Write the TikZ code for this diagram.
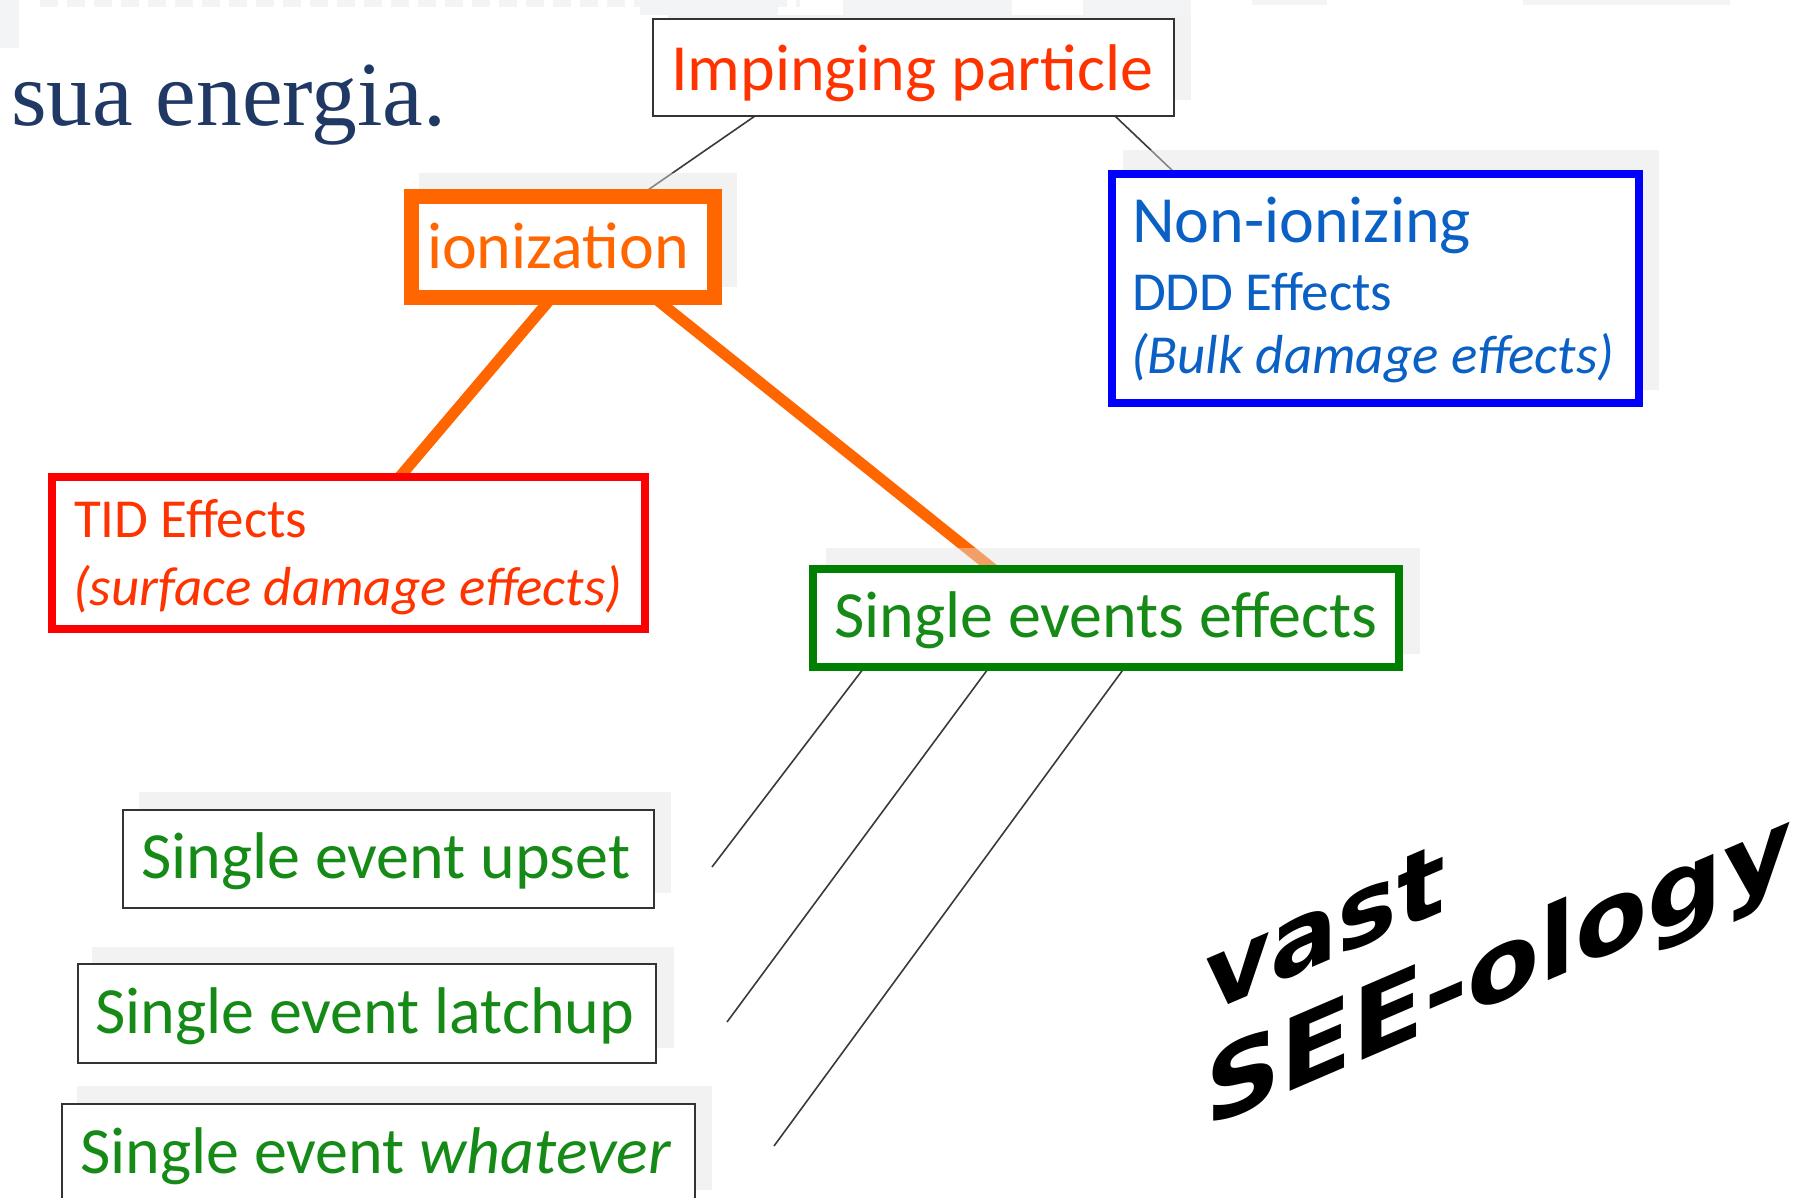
\documentclass[tikz,border=0pt]{standalone}
\usepackage{fontspec}
\setmainfont{Carlito}
\newfontfamily\serifface{Liberation Serif}
\newfontfamily\handface{DejaVu Sans}
\usetikzlibrary{calc}
\definecolor{impred}{HTML}{FF3300}
\definecolor{ionorange}{HTML}{FF6600}
\definecolor{nonblue}{HTML}{0000FF}
\definecolor{nontext}{HTML}{0A60C4}
\definecolor{tidred}{HTML}{FF0000}
\definecolor{seegreen}{HTML}{008000}
\definecolor{greentext}{HTML}{168A16}
\definecolor{boxgray}{HTML}{333333}
\definecolor{linegray}{HTML}{3A3A3A}
\definecolor{navytext}{HTML}{1F3864}
\definecolor{shd}{gray}{0.89}
\definecolor{artgray}{HTML}{F3F4F6}
\begin{document}
\begin{tikzpicture}[x=1pt,y=-1pt,
  boxbase/.style={inner sep=0pt, outer sep=0pt, fill=white},
  thinbox/.style={boxbase, draw=boxgray, line width=2pt},
  shadowbox/.style={fill=shd, fill opacity=0.45, draw=none},
  txt/.style={inner sep=0pt, outer sep=0pt, anchor=base west},
  bigfont/.style={font=\fontsize{66}{79}\selectfont},
  midfont/.style={font=\fontsize{55}{66}\selectfont},
  thinline/.style={draw=linegray, line width=1.6pt},
  thickline/.style={draw=ionorange, line width=11pt},
]
\useasboundingbox (0,0) rectangle (1809,1197);
\clip (0,0) rectangle (1809,1197);
\fill[white] (0,0) rectangle (1809,1197);

% faint slide artefacts at the top
\fill[artgray] (0,0) rectangle (19,48);
\draw[artgray, line width=7pt, dash pattern=on 18pt off 9pt] (40,3.5) -- (800,3.5);
\fill[artgray] (640,0) rectangle (778,15);
\fill[artgray] (843,0) rectangle (1012,15);
\fill[artgray] (1083,0) rectangle (1191,15);
\fill[artgray] (1252,0) rectangle (1327,5);
\fill[artgray] (1523,0) rectangle (1730,5);

% centres of the boxes
\path (913.5,67.5) coordinate (impC)
      (563,247) coordinate (ionC)
      (1375.5,288.5) coordinate (nonC)
      (348.5,553) coordinate (tidC)
      (1106,618) coordinate (seeC)
      (388.5,859) coordinate (seuC)
      (367,1013.5) coordinate (selC)
      (378.5,1154) coordinate (sewC);

% box outlines as named nodes (drawn visibly later) so connectors can use them
\node[boxbase, fill=none, minimum width=521pt, minimum height=97pt] (imp) at (impC) {};
\node[boxbase, fill=none, minimum width=303pt, minimum height=101pt] (ion) at (ionC) {};
\node[boxbase, fill=none, minimum width=527pt, minimum height=229pt] (non) at (nonC) {};
\node[boxbase, fill=none, minimum width=593pt, minimum height=152pt] (tid) at (tidC) {};
\node[boxbase, fill=none, minimum width=586pt, minimum height=98pt] (see) at (seeC) {};

% free ends of the SEE connectors
\coordinate (seuEnd) at (712,867);
\coordinate (selEnd) at (727,1022);
\coordinate (sewEnd) at (774,1146);

% connectors
\draw[thinline] ([xshift=-158.5pt]imp.south) -- ([xshift=75.5pt]ion.north);
\draw[thinline] ([xshift=201.5pt]imp.south) -- ([xshift=-199.5pt]non.north);
\draw[thickline] ([xshift=-11.2pt]ion.south) -- ([xshift=51.1pt]tid.north);
\draw[thickline] ([xshift=91pt]ion.south) -- ([xshift=-113pt]see.north);
\draw[thinline] ([xshift=-241.4pt]see.south) -- (seuEnd);
\draw[thinline] ([xshift=-116.6pt]see.south) -- (selEnd);
\draw[thinline] ([xshift=19pt]see.south) -- (sewEnd);

% shadows
\fill[shadowbox] (668,15) rectangle (1191,100);
\fill[shadowbox] (419,173) rectangle (737,287);
\fill[shadowbox] (1123,150) rectangle (1659,390);
\fill[shadowbox] (826,548) rectangle (1420,654);
\fill[shadowbox] (139,792) rectangle (671,893);
\fill[shadowbox] (92,947) rectangle (674,1048);
\fill[shadowbox] (77,1086) rectangle (712,1190);

% visible boxes
\node[thinbox, minimum width=521pt, minimum height=97pt] (impBox) at (impC) {};
\node[boxbase, draw=ionorange, line width=15pt, minimum width=303pt, minimum height=101pt] (ionBox) at (ionC) {};
\node[boxbase, draw=nonblue, line width=8pt, minimum width=527pt, minimum height=229pt] (nonBox) at (nonC) {};
\node[boxbase, draw=tidred, line width=8pt, minimum width=593pt, minimum height=152pt] (tidBox) at (tidC) {};
\node[boxbase, draw=seegreen, line width=8pt, minimum width=586pt, minimum height=98pt] (seeBox) at (seeC) {};
\node[thinbox, minimum width=531pt, minimum height=98pt] (seu) at (seuC) {};
\node[thinbox, minimum width=578pt, minimum height=99pt] (sel) at (selC) {};
\node[thinbox, minimum width=633pt, minimum height=100pt] (sew) at (sewC) {};

% texts
\node[txt, font=\serifface\fontsize{91.5}{100}\selectfont, text=navytext] (sua) at (11,125) {sua energia.};
\node[txt, bigfont, text=impred] (impT) at (671,90) {Impinging particle};
\node[txt, bigfont, text=ionorange] (ionT) at (427,268) {ionization};
\node[txt, bigfont, text=nontext] (nonT1) at (1132,242) {Non-ionizing};
\node[txt, midfont, text=nontext] (nonT2) at (1132,310) {DDD Effects};
\node[txt, midfont, text=nontext] (nonT3) at (1131,373) {\itshape (Bulk damage effects)};
\node[txt, midfont, text=impred] (tidT1) at (74,537) {TID Effects};
\node[txt, midfont, text=impred] (tidT2) at (73,605) {\itshape (surface damage effects)};
\node[txt, bigfont, text=greentext] (seeT) at (834,637) {Single events effects};
\node[txt, bigfont, text=greentext] (seuT) at (141,878) {Single event upset};
\node[txt, bigfont, text=greentext] (selT) at (95,1033) {Single event latchup};
\node[txt, bigfont, text=greentext] (sewT) at (80,1173) {Single event \textit{whatever}};

% hand-written remark (anchor is on the baseline of the last line)
\node[txt, yslant=0.43, align=left, font=\handface\bfseries\fontsize{100}{114}\selectfont] (remark) at (1205,1128) {vast\\\scalebox{1.05}[1]{SEE-ology}};
\end{tikzpicture}
\end{document}
